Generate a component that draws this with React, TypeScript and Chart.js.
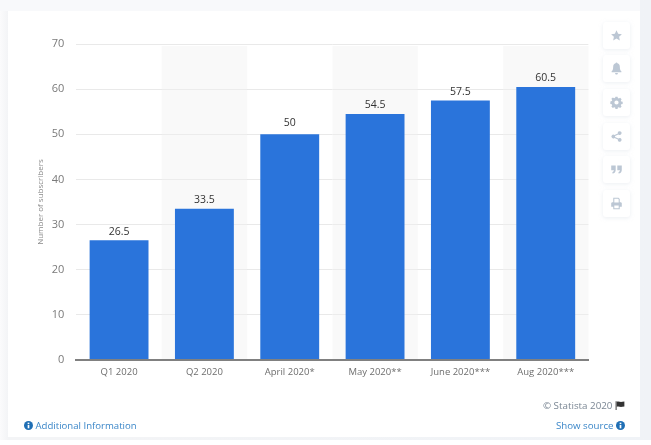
import React, { useEffect, useRef } from 'react';
import { Chart, registerables } from 'chart.js';

Chart.register(...registerables);

const categories = ['Q1 2020', 'Q2 2020', 'April 2020*', 'May 2020**', 'June 2020***', 'Aug 2020***'];
const subscribers = [26.5, 33.5, 50, 54.5, 57.5, 60.5];
const valueLabels = ['26.5', '33.5', '50', '54.5', '57.5', '60.5'];
const bandedIndexes = [1, 3, 5];

const FONT = '"Open Sans", "Noto Sans", sans-serif';

const bandPlugin = {
  id: 'bands',
  beforeDatasetsDraw(chart: any) {
    const { ctx, chartArea, scales } = chart;
    const step = scales.x.width / categories.length;
    ctx.save();
    ctx.fillStyle = 'rgba(240,240,240,0.4)';
    bandedIndexes.forEach((i) => {
      ctx.fillRect(scales.x.getPixelForValue(i) - step / 2, chartArea.top + 2, step, chartArea.height - 2);
    });
    ctx.restore();
  },
};

const valueLabelPlugin = {
  id: 'valueLabels',
  afterDatasetsDraw(chart: any) {
    const { ctx } = chart;
    const bars = chart.getDatasetMeta(0).data;
    ctx.save();
    ctx.font = `500 10.5px ${FONT}`;
    ctx.fillStyle = '#333333';
    ctx.textAlign = 'center';
    ctx.textBaseline = 'alphabetic';
    bars.forEach((bar: any, i: number) => {
      // the reference sits the "50" label a little higher than the others
      const lift = valueLabels[i] === '50' ? 3 : 0;
      ctx.fillText(valueLabels[i], bar.x, bar.y - 5.5 - lift);
    });
    ctx.restore();
  },
};

const icons = [
  <path key="star" d="M8 1.500l2 4.300 4.600.6-3.400 3.100.9 4.600L8 11.800l-4.100 2.300.9-4.600L1.400 6.400 6 5.800z" />,
  <path key="bell" d="M8 .5c.7 0 1.100.5 1.100 1.100 2 .5 3 2.100 3 4.400 0 3 .7 4.300 1.900 5.500v1.200H2v-1.200C3.200 10.300 3.900 9 3.900 6c0-2.300 1-3.900 3-4.400C6.900 1 7.300.5 8 .5zM6.300 13.500h3.400c0 1.100-.7 2-1.700 2s-1.700-.9-1.700-2z" />,
  <path key="gear" fillRule="evenodd" d="M6.700.8h2.600l.4 1.800 1.200.5 1.600-1 1.800 1.800-1 1.600.5 1.200 1.800.4v2.600l-1.800.4-.5 1.200 1 1.600-1.800 1.800-1.600-1-1.200.5-.4 1.800H6.700l-.4-1.800-1.200-.5-1.600 1-1.800-1.800 1-1.600-.5-1.200-1.800-.4V6.700l1.800-.4.5-1.200-1-1.600 1.800-1.800 1.600 1 1.200-.5zM8 5.400a2.600 2.600 0 100 5.200 2.600 2.600 0 000-5.200z" />,
  <path key="share" d="M12 1.500a2.300 2.300 0 11-1.700 3.900L6.200 7.400a2.300 2.300 0 010 1.200l4.100 2a2.300 2.300 0 11-.6 1.100l-4.100-2a2.300 2.300 0 110-3.400l4.100-2A2.300 2.300 0 0112 1.500z" />,
  <path key="quote" d="M1.500 3h5.500v5.500c0 2.500-1.400 4-4 4.500v-2c1.200-.3 1.800-1 1.800-2H1.500zM9 3h5.500v5.500c0 2.500-1.400 4-4 4.500v-2c1.200-.3 1.800-1 1.800-2H9z" />,
  <path key="print" fillRule="evenodd" d="M4 1h6.500L12 2.500v4h1.500l1 1V12H12v3H4v-3H1.500V7.500l1-1H4zM5.300 2.300v4.500h5.400V3l-.7-.7zM5.300 10.500v3.200h5.400v-3.200z" />,
];
const iconTops = [21.5, 55, 89, 122.500, 156, 190];

const InfoDot: React.FC = () => (
  <svg width="9" height="9" viewBox="0 0 16 16" style={{ verticalAlign: '-1px' }}>
    <circle cx="8" cy="8" r="8" fill="#1f6fb5" />
    <rect x="6.500" y="7" width="3" height="6" fill="#fff" />
    <rect x="6.500" y="3" width="3" height="2.500" fill="#fff" />
  </svg>
);

const App: React.FC = () => {
  const canvasRef = useRef<HTMLCanvasElement>(null);

  useEffect(() => {
    document.body.style.margin = '0';
    document.body.style.background = '#fff';
    if (!canvasRef.current) return;
    const chart = new Chart(canvasRef.current, {
      type: 'bar',
      data: {
        labels: categories,
        datasets: [
          {
            label: 'Number of subscribers',
            data: subscribers,
            backgroundColor: '#2a74db',
            barPercentage: 0.69,
            categoryPercentage: 1,
          },
        ],
      },
      options: {
        animation: false,
        responsive: false,
        devicePixelRatio: 1,
        layout: { padding: { top: 44, right: 62.6, left: 0, bottom: 0 } },
        plugins: { legend: { display: false }, tooltip: { enabled: false } },
        scales: {
          x: {
            afterFit: (scale: any) => {
              scale.height = 85;
            },
            grid: { display: false, drawTicks: false },
            border: { color: '#808080', width: 2, z: 1 },
            ticks: {
              color: '#6e6e6e',
              font: { family: FONT, size: 9.5 },
              padding: 7,
              maxRotation: 0,
              autoSkip: false,
            },
          },
          y: {
            min: 0,
            max: 70,
            afterFit: (scale: any) => {
              scale.width = 76.4;
            },
            grid: { color: '#e9e9e9', drawTicks: false },
            border: { display: false },
            ticks: {
              stepSize: 10,
              color: '#7a7a7a',
              font: { family: FONT, size: 11 },
              padding: 12,
            },
            title: {
              display: true,
              text: 'Number of subscribers',
              color: '#8a8a8a',
              font: { family: FONT, size: 8 },
              padding: { top: 36, bottom: 0 },
            },
          },
        },
      },
      plugins: [bandPlugin, valueLabelPlugin],
    });
    return () => chart.destroy();
  }, []);

  return (
    <div style={{ position: 'relative', width: 651, height: 445, overflow: 'hidden', fontFamily: FONT }}>
      <div
        style={{
          position: 'absolute',
          left: 0,
          top: 0,
          width: 651,
          height: 440,
          background: 'linear-gradient(90deg, #fbfbfc 0px, #f3f4f6 8px, #f3f4f6 100px, #f0f3f7 100%)',
        }}
      />
      <div style={{ position: 'absolute', left: 0, top: 0, width: 640, height: 11, background: '#f8f9fb' }} />
      <div style={{ position: 'absolute', left: 8, top: 11, width: 632, height: 426, background: '#fff' }} />
      <canvas ref={canvasRef} width={651} height={445} style={{ position: 'absolute', left: 0, top: 0 }} />
      {iconTops.map((top, i) => (
        <div
          key={top}
          style={{
            position: 'absolute',
            left: 603,
            top,
            width: 27,
            height: 27,
            background: '#fff',
            borderRadius: 3,
            boxShadow: '0 1px 4px rgba(200,208,220,0.35)',
            display: 'flex',
            alignItems: 'center',
            justifyContent: 'center',
          }}
        >
          <svg width="13" height="13" viewBox="0 0 16 16" fill="#bcc7d4">
            {icons[i]}
          </svg>
        </div>
      ))}
      <div style={{ position: 'absolute', left: 24, top: 419, fontSize: 9.6, color: '#3a86c8', whiteSpace: 'nowrap' }}>
        <InfoDot /> Additional Information
      </div>
      <div style={{ position: 'absolute', right: 26, top: 399, fontSize: 9.8, color: '#7b8794', whiteSpace: 'nowrap' }}>
        © Statista 2020{' '}
        <svg width="10" height="9" viewBox="0 0 16 14" style={{ verticalAlign: '-1px' }}>
          <path d="M1 0h1.500v14H1zM3 1c3-1.500 5 1 9 0l3-.5v8l-3 .5c-4 1-6-1.500-9 0z" fill="#333" />
        </svg>
      </div>
      <div style={{ position: 'absolute', right: 26, top: 419, fontSize: 9.7, color: '#3a86c8', whiteSpace: 'nowrap' }}>
        Show source <InfoDot />
      </div>
    </div>
  );
};

export default App;
